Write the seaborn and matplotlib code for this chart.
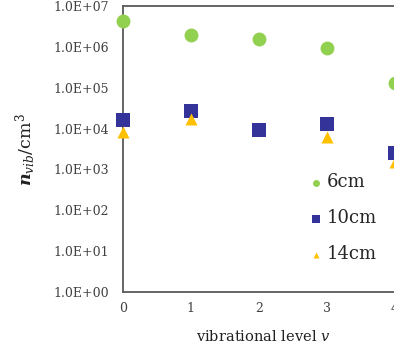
import numpy as np
import pandas as pd
import matplotlib
matplotlib.use("Agg")
import matplotlib.pyplot as plt
from matplotlib.ticker import FixedLocator, FuncFormatter
import seaborn as sns

# vibrational levels and densities (cm^-3)
levels = [0, 1, 2, 3, 4]
n_6cm = [4.3e6, 1.95e6, 1.53e6, 9.4e5, 1.33e5]
n_10cm = [1.62e4, 2.74e4, 9.2e3, 1.27e4, 2.57e3]
n_14cm = [8.1e3, 1.7e4, np.nan, 6.2e3, 1.5e3]
series_names = ["6cm", "10cm", "14cm"]

sns.set_style("white")
plt.rcParams["font.family"] = ["DejaVu Serif"]
plt.rcParams["mathtext.fontset"] = "dejavuserif"

df = pd.DataFrame({"v": levels * 3,
                   "n": n_6cm + n_10cm + n_14cm,
                   "series": [s for s in series_names for _ in levels]})

# the reference is cropped on the right, so the axes run past the figure edge
fig = plt.figure(figsize=(3.94, 3.52), dpi=100)
ax = fig.add_axes([0.312, 0.1705, 0.863, 0.8125])

styles = {"6cm": ("o", "#92D050", 100),
          "10cm": ("s", "#333399", 110),
          "14cm": ("^", "#FFC000", 75)}
for name in series_names:
    m, c, s = styles[name]
    sub = df[df["series"] == name].dropna()
    sns.scatterplot(data=sub, x="v", y="n", marker=m, color=c, s=s,
                    linewidth=0, label=name, ax=ax, clip_on=False, zorder=3)

ax.set_yscale("log")
ax.set_ylim(1, 1e7)
ax.set_xlim(0, 5)
ax.yaxis.set_major_locator(FixedLocator([10.0 ** k for k in range(8)]))
ax.yaxis.set_minor_locator(FixedLocator([]))
ax.yaxis.set_major_formatter(FuncFormatter(lambda y, p: "1.0E+%02d" % round(np.log10(y))))
ax.set_xticks(levels)
ax.tick_params(axis="both", length=0, labelsize=9, colors="#404040")
ax.tick_params(axis="y", pad=10)
ax.tick_params(axis="x", pad=7)
ax.set_xlabel("")
ax.set_ylabel("")

for side in ["left", "bottom", "top"]:
    ax.spines[side].set_color("#595959")
    ax.spines[side].set_linewidth(1.3)
ax.spines["right"].set_visible(False)

fig.text(0.668, 0.043, r"vibrational level $v$", ha="center", va="center",
         fontsize=10.5, color="#202020")
fig.text(0.065, 0.574, r"$\boldsymbol{n}_{vib}$/cm$^3$", rotation=90,
         ha="center", va="center", fontsize=12.5, color="#202020")

leg = ax.legend(loc="upper left", bbox_to_anchor=(0.52, 0.44), frameon=False,
                fontsize=13, markerscale=0.5, handletextpad=0.1,
                labelspacing=1.0, handlelength=1.0, borderaxespad=0)

fig.savefig("out.png", dpi=100)
